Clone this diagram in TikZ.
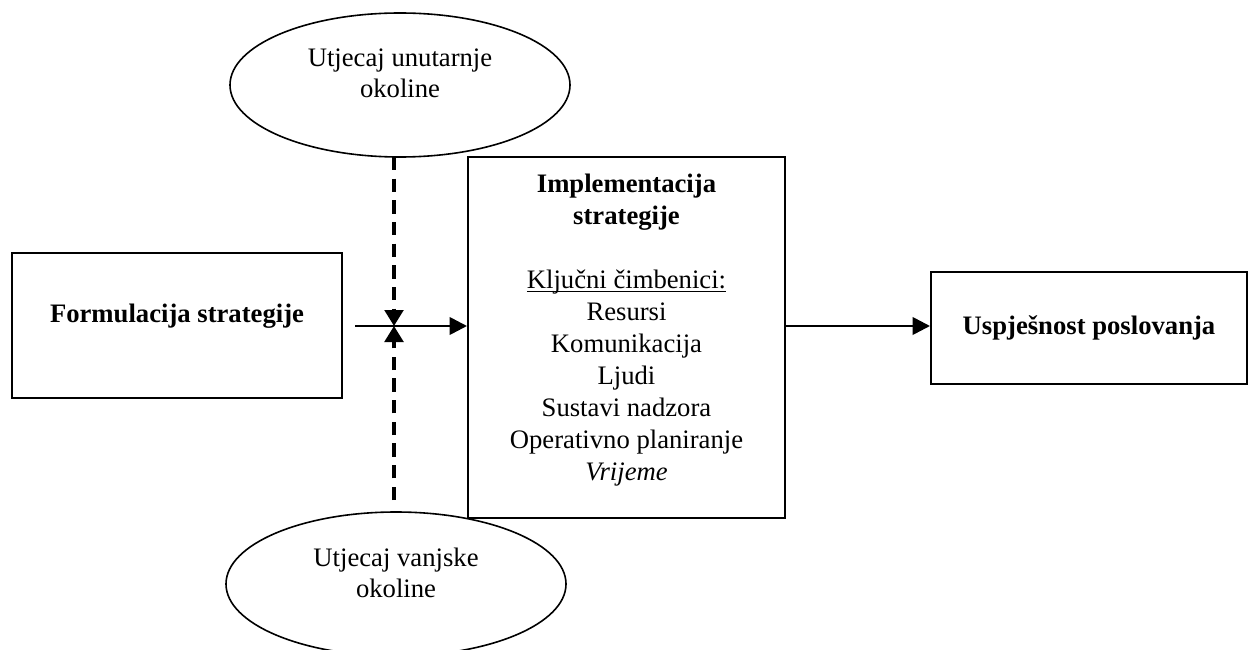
\documentclass[tikz,border=0pt]{standalone}
\usepackage{fontspec}
\setmainfont{Liberation Serif}
\usetikzlibrary{shapes.geometric,arrows.meta}

\newcommand\podcrtano[1]{\setbox0\hbox{#1}\makebox[0pt][l]{\rule[-2.2pt]{\wd0}{0.9pt}}\box0}

\begin{document}
\begin{tikzpicture}[x=0.75pt,y=0.75pt,yscale=-1,xscale=1,
  okolina/.style={draw, ellipse, line width=1.2pt, minimum width=255pt, minimum height=108pt, inner sep=0},
  kutija/.style={draw, rectangle, line width=1.5pt, inner sep=0},
  tekst/.style={font=\fontsize{20}{23}\selectfont, align=center, inner sep=0},
  naslov/.style={tekst, font=\fontsize{20}{23}\selectfont\bfseries},
  strelica/.style={line width=2pt, -{Triangle[length=13pt,width=13pt]}},
  isprekidana/.style={line width=2.5pt, dash pattern=on 10pt off 6.25pt, -{Triangle[length=12pt,width=14pt]}}]
\useasboundingbox (0,0) rectangle (1248,649);

%Shape: Ellipse [unutarnja]
\node [okolina] (unutarnja) at (400,85) {};
% Text Node
\node [tekst] (unutarnjatekst) at (400,73) {Utjecaj unutarnje\\okoline};

%Shape: Ellipse [vanjska]
\node [okolina] (vanjska) at (396,584) {};
% Text Node
\node [tekst] (vanjskatekst) at (396,573) {Utjecaj vanjske\\okoline};

%Shape: Rectangle [formulacija]
\node [kutija, minimum width=247.5pt, minimum height=108.75pt] (formulacija) at (177,325.5) {};
% Text Node
\node [naslov] (formulacijatekst) at (177,316) {Formulacija strategije};

%Shape: Rectangle [impl]
\node [kutija, minimum width=237.75pt, minimum height=270.75pt] (impl) at (626.5,337.5) {};
% Text Node
\node [tekst, font=\fontsize{20}{24}\selectfont, anchor=north] (impltekst) at (626.5,174) {\textbf{Implementacija}\\\textbf{strategije}\\[24pt]
  \podcrtano{Ključni čimbenici:}\\Resursi\\Komunikacija\\Ljudi\\Sustavi nadzora\\Operativno planiranje\\\textit{Vrijeme}};

%Shape: Rectangle [uspjesnost]
\node [kutija, naslov, draw, minimum width=237pt, minimum height=84pt] (uspjesnost) at (1089,328) {Uspješnost poslovanja};

%Coordinates
\coordinate (start) at (355,326);
\coordinate (spoj) at (394,326);
\coordinate (gore) at (394,157);
\coordinate (dolje) at (394,500);

%Straight Lines
\draw [strelica] (start) -- (impl.west |- start);
\draw [strelica] (impl.east |- start) -- (uspjesnost.west |- start);

%Dashed Lines
\draw [isprekidana] (gore) -- (spoj);
\draw [isprekidana] (dolje) -- (spoj);

\end{tikzpicture}
\end{document}
